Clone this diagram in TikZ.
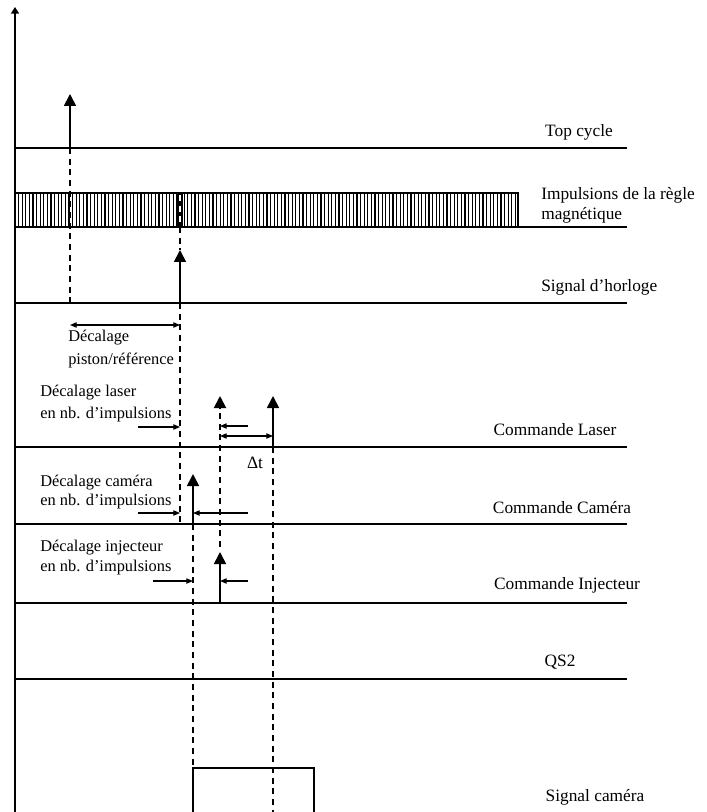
\documentclass[tikz,border=0pt]{standalone}
\usepackage{fontspec}
\setmainfont{Liberation Serif}
\usetikzlibrary{arrows.meta}

\begin{document}
\begin{tikzpicture}[x=0.75pt,y=-0.75pt,
    base/.style={line width=1.1pt},
    pulse/.style={line width=1.3pt,-{Triangle[width=9pt,length=9pt]}},
    guide/.style={line width=1.4pt,dash pattern=on 4.5pt off 3.5pt},
    gap/.style={line width=0.8pt,-{Triangle[width=4pt,length=5pt]}},
    gapboth/.style={line width=0.8pt,{Triangle[width=4pt,length=5pt]}-{Triangle[width=4pt,length=5pt]}},
    lbl/.style={font=\fontsize{13}{15}\selectfont,inner sep=0pt},
    note/.style={font=\fontsize{12.3}{14}\selectfont,inner sep=0pt,anchor=west}]
    \useasboundingbox (0,0) rectangle (706,812);
    % time axis
    \draw[line width=1.6pt,-{Triangle[width=6pt,length=5pt]}] (15,812) -- (15,7);
    \foreach \y in {148,227,303,447,524,603,679}
        \draw[base] (15,\y) -- (627,\y);
    % magnetic rule pulses
    \draw[base] (15,193) rectangle (518,227);
    \foreach \x in {18.6,22.2,...,516}
        \draw[line width=0.9pt] (\x,193) -- (\x,227);
    \fill (177,193) rectangle (183,227);
    \draw[guide,white] (180,195) -- (180,227);
    \draw[line width=2.2pt] (518,193) -- (518,227);
    % pulses
    \draw[pulse] (70,148) -- (70,94);
    \draw[pulse] (180,303) -- (180,250);
    \draw[pulse] (273,447) -- (273,396);
    \draw[pulse] (193,524) -- (193,474);
    \draw[pulse] (220,603) -- (220,552);
    \draw[guide,-{Triangle[width=9pt,length=9pt]}] (220,547) -- (220,396);
    % guide lines
    \draw[guide] (70,148) -- (70,303);
    \draw[guide] (180,227) -- (180,250);
    \draw[guide] (180,303) -- (180,524);
    \draw[guide] (193,524) -- (193,768);
    \draw[guide] (273,447) -- (273,812);
    % offsets
    \draw[gapboth] (70,325) -- (180,325);
    \draw[gap] (138,427) -- (180,427);
    \draw[gap] (248,426) -- (220,426);
    \draw[gapboth] (220,436) -- (273,436);
    \draw[gap] (138,513) -- (180,513);
    \draw[gap] (248,513) -- (193,513);
    \draw[gap] (153,581) -- (193,581);
    \draw[gap] (248,581) -- (220,581);
    % camera signal
    \draw[base] (193,812) -- (193,768) -- (314,768) -- (314,812);
    % labels
    \node[lbl] (topcyc) at (579,132) {Top cycle};
    \node[lbl,anchor=west] (regle) at (541,195) {Impulsions de la règle};
    \node[lbl,anchor=west] (regle2) at (541,215) {magnétique};
    \node[lbl,anchor=west] (horl) at (541,287) {Signal d'horloge};
    \node[lbl] (cmdlas) at (555,430) {Commande Laser};
    \node[lbl] (cmdcam) at (562,508) {Commande Caméra};
    \node[lbl] (cmdinj) at (567,585) {Commande Injecteur};
    \node[lbl] (qs) at (560,662) {QS2};
    \node[lbl] (sigcam) at (595,797) {Signal caméra};
    \node[note] (decp) at (68,338) {Décalage};
    \node[note] (decp2) at (68,360) {piston/référence};
    \node[note] (decl) at (40,393) {Décalage laser};
    \node[note] (decl2) at (40,415) {en nb. d'impulsions};
    \node[lbl] (dt) at (255,463) {Δt};
    \node[note] (decc) at (40,483) {Décalage caméra};
    \node[note] (decc2) at (40,502) {en nb. d'impulsions};
    \node[note] (deci) at (40,548) {Décalage injecteur};
    \node[note] (deci2) at (40,568) {en nb. d'impulsions};
\end{tikzpicture}
\end{document}
